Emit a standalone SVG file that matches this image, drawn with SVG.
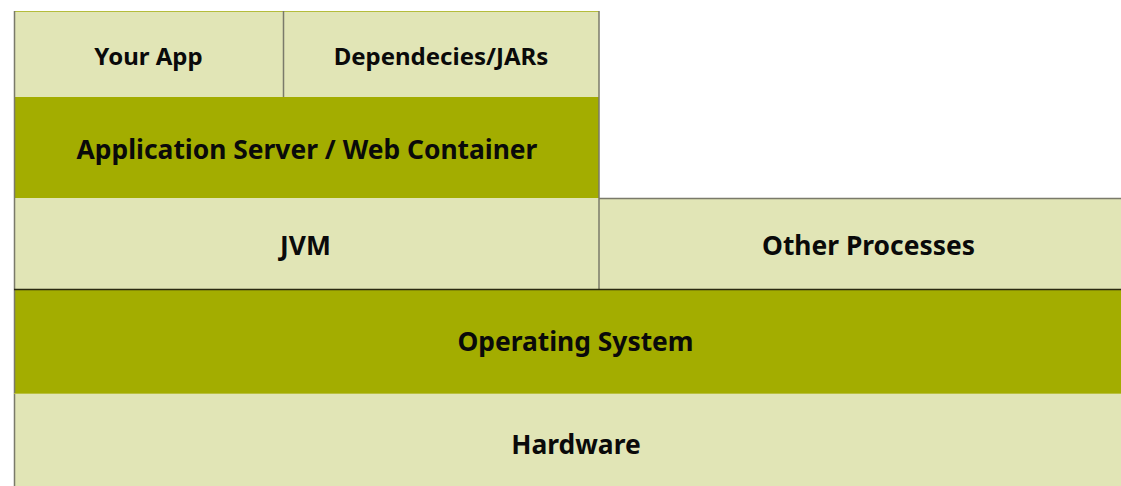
<svg xmlns="http://www.w3.org/2000/svg" width="1121" height="486" viewBox="0 0 1121 486">
  <style>
    .light { fill: #e1e5b6; }
    .dark { fill: #a3ad00; }
    .edge { stroke: #7a7a6a; stroke-width: 1.5; fill: none; }
    .lbl { font-family: "Noto Sans", "Open Sans", sans-serif; font-weight: bold; fill: #0a0a0a; text-anchor: middle; }
    .s { font-size: 24px; }
    .m { font-size: 26.4px; }
  </style>
  <rect width="1121" height="486" fill="#ffffff"/>

  <g id="your-app">
    <rect class="light" x="14" y="11" width="269" height="86"/>
    <text class="lbl s" x="148.5" y="64.5">Your App</text>
  </g>
  <g id="dependencies">
    <rect class="light" x="283" y="11" width="316" height="86"/>
    <text class="lbl s" x="441" y="64.5">Dependecies/JARs</text>
  </g>
  <g id="app-server">
    <rect class="dark" x="14" y="97" width="585" height="101"/>
    <text class="lbl m" x="307" y="159">Application Server / Web Container</text>
  </g>
  <g id="jvm">
    <rect class="light" x="14" y="198" width="585" height="91"/>
    <text class="lbl m" x="305.5" y="254.5">JVM</text>
  </g>
  <g id="other-processes">
    <rect class="light" x="599" y="198" width="522" height="91"/>
    <text class="lbl m" x="868.5" y="254.5">Other Processes</text>
  </g>
  <g id="operating-system">
    <rect class="dark" x="14" y="289" width="1107" height="104"/>
    <text class="lbl m" x="575.5" y="351">Operating System</text>
  </g>
  <g id="hardware">
    <rect class="light" x="14" y="393" width="1107" height="93"/>
    <text class="lbl m" x="576" y="453.5">Hardware</text>
  </g>

  <g id="connectors">
    <path d="M14 11.5 H599" stroke="#b4bc3c" stroke-width="1.2" fill="none"/>
    <path class="edge" d="M14.5 11 V486"/>
    <path class="edge" d="M283.5 11 V97"/>
    <path class="edge" d="M599 11 V289"/>
    <path class="edge" d="M599 198.5 H1121"/>
    <path d="M14 289.5 H1121" stroke="#2a2a10" stroke-width="1.5" fill="none"/>
    <path d="M14 393.5 H1121" stroke="#b9c040" stroke-width="1" fill="none"/>
  </g>
</svg>
